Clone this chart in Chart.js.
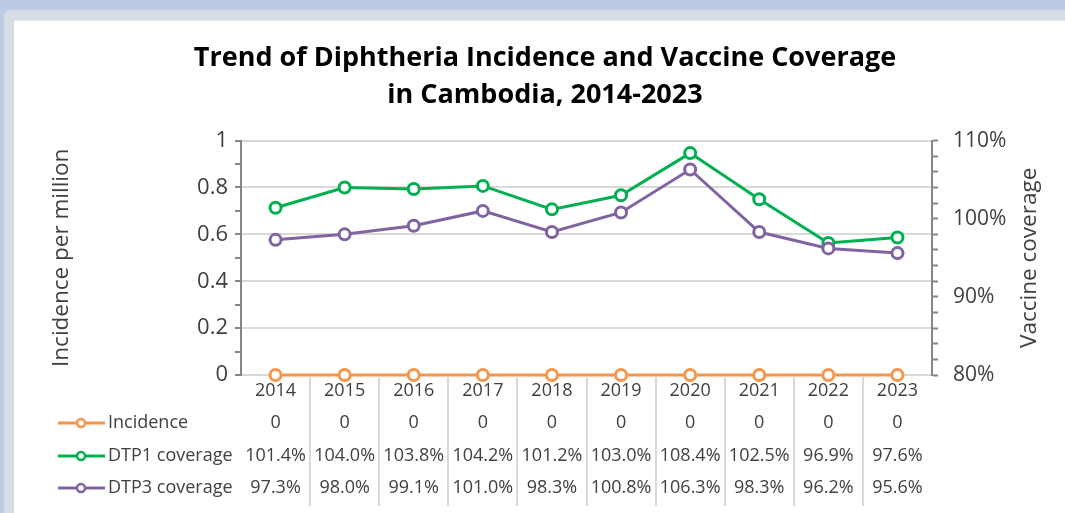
<!DOCTYPE html>
<html>
<head>
<meta charset="utf-8">
<script src="https://cdn.jsdelivr.net/npm/chart.js@4"></script>
<style>
  html, body { margin: 0; padding: 0; }
  body { width: 1065px; height: 513px; background: #bccae3; position: relative; overflow: hidden; }
  #frame { position: absolute; left: 4px; top: 10px; right: 0; bottom: 0; background: #d6dde6; border-top-left-radius: 6px; }
  #sheet { position: absolute; left: 14px; top: 20px; width: 1051px; height: 493px; background: #fff; border-top: 1px solid #e3e6e1; box-sizing: border-box; }
  canvas { display: block; }
</style>
</head>
<body>
<div id="frame"></div>
<div id="sheet"><canvas id="chart" width="1051" height="492"></canvas></div>
<script>
const years = ['2014', '2015', '2016', '2017', '2018', '2019', '2020', '2021', '2022', '2023'];
const incidence = [0, 0, 0, 0, 0, 0, 0, 0, 0, 0];
const dtp1Coverage = [101.4, 104.0, 103.8, 104.2, 101.2, 103.0, 108.4, 102.5, 96.9, 97.6];
const dtp3Coverage = [97.3, 98.0, 99.1, 101.0, 98.3, 100.8, 106.3, 98.3, 96.2, 95.6];

const FONT = "'Open Sans', 'DejaVu Sans', sans-serif";
const TEXT = '#404040';
const AXIS = '#868686';
const GRID = '#d9d9d9';

const series = [
  { label: 'Incidence', data: incidence, color: '#f7964a', axis: 'y', fmt: (v) => String(v) },
  { label: 'DTP1 coverage', data: dtp1Coverage, color: '#00b050', axis: 'y1', fmt: (v) => v.toFixed(1) + '%' },
  { label: 'DTP3 coverage', data: dtp3Coverage, color: '#8064a2', axis: 'y1', fmt: (v) => v.toFixed(1) + '%' }
];

// data table under the x axis, aligned with the category columns
const dataTable = {
  id: 'dataTable',
  afterDraw(chart) {
    const { ctx, chartArea, scales } = chart;
    const xs = scales.x;
    const centers = years.map((_, i) => xs.getPixelForValue(i));
    const rowY = [402, 435, 467];

    ctx.save();
    ctx.strokeStyle = GRID;
    ctx.lineWidth = 2;
    for (let i = 1; i < centers.length; i++) {
      const bx = Math.round((centers[i - 1] + centers[i]) / 2);
      ctx.beginPath();
      ctx.moveTo(bx, chartArea.bottom + 1);
      ctx.lineTo(bx, 485);
      ctx.stroke();
    }

    ctx.font = '18px ' + FONT;
    ctx.textBaseline = 'middle';
    series.forEach((s, r) => {
      const y = rowY[r];
      ctx.strokeStyle = s.color;
      ctx.lineWidth = 3;
      ctx.beginPath();
      ctx.moveTo(44, y);
      ctx.lineTo(91, y);
      ctx.stroke();
      ctx.beginPath();
      ctx.arc(67, y, 4, 0, Math.PI * 2);
      ctx.fillStyle = '#fff';
      ctx.fill();
      ctx.lineWidth = 2.5;
      ctx.stroke();

      ctx.fillStyle = TEXT;
      ctx.textAlign = 'left';
      ctx.fillText(s.label, 94, y);
      ctx.textAlign = 'center';
      s.data.forEach((v, i) => ctx.fillText(s.fmt(v), centers[i], y));
    });

    // right axis title reads bottom to top, unlike Chart.js' default
    ctx.translate(1016, (chartArea.top + chartArea.bottom) / 2);
    ctx.rotate(-Math.PI / 2);
    ctx.font = '22.5px ' + FONT;
    ctx.textAlign = 'center';
    ctx.fillText('Vaccine coverage', 0, 0);
    ctx.restore();
  }
};

new Chart(document.getElementById('chart'), {
  type: 'line',
  data: {
    labels: years,
    datasets: series.map((s) => ({
      label: s.label,
      data: s.data,
      yAxisID: s.axis,
      borderColor: s.color,
      backgroundColor: '#fff',
      pointBackgroundColor: '#fff',
      borderWidth: 3,
      pointRadius: 5.5,
      pointBorderWidth: 3,
      tension: 0,
      clip: false
    })).reverse()
  },
  options: {
    responsive: false,
    animation: false,
    layout: { padding: { left: 30, right: 19, top: 0, bottom: 0 } },
    plugins: {
      legend: { display: false },
      tooltip: { enabled: false },
      title: {
        display: true,
        text: ['Trend of Diphtheria Incidence and Vaccine Coverage', 'in Cambodia, 2014-2023'],
        color: '#000',
        font: { family: FONT, size: 27, weight: 'bold', lineHeight: 1.4 },
        padding: { top: 18, bottom: 26 }
      }
    },
    scales: {
      x: {
        offset: true,
        grid: { drawOnChartArea: false, drawTicks: false, offset: true },
        border: { color: GRID, width: 2 },
        ticks: { color: TEXT, font: { family: FONT, size: 18 }, padding: 5, maxRotation: 0 },
        afterFit(scale) { scale.height = 138; }
      },
      y: {
        position: 'left',
        min: 0,
        max: 1,
        ticks: {
          stepSize: 0.1,
          autoSkip: false,
          color: TEXT,
          font: { family: FONT, size: 22 },
          padding: 7,
          callback: (v) => {
            const r = Math.round(v * 10);
            return r % 2 === 0 ? String(r / 10) : '';
          }
        },
        grid: {
          color: (c) => (Math.round(c.tick.value * 10) % 2 === 0 ? GRID : 'rgba(0,0,0,0)'),
          lineWidth: 2,
          tickColor: AXIS,
          tickLength: 6,
          tickWidth: 2
        },
        border: { color: AXIS, width: 2 },
        title: { display: true, text: 'Incidence per million', color: TEXT, font: { family: FONT, size: 22.5 } },
        afterFit(scale) { scale.width = 197; }
      },
      y1: {
        position: 'right',
        min: 80,
        max: 110,
        ticks: {
          stepSize: 2,
          autoSkip: false,
          color: TEXT,
          font: { family: FONT, size: 21 },
          padding: 15,
          callback: (v) => (v % 10 === 0 ? v + '%' : '')
        },
        grid: { drawOnChartArea: false, tickColor: AXIS, tickLength: 6, tickWidth: 2 },
        border: { color: AXIS, width: 2 },
        afterFit(scale) { scale.width = 114; }
      }
    }
  },
  plugins: [dataTable]
});
</script>
</body>
</html>
